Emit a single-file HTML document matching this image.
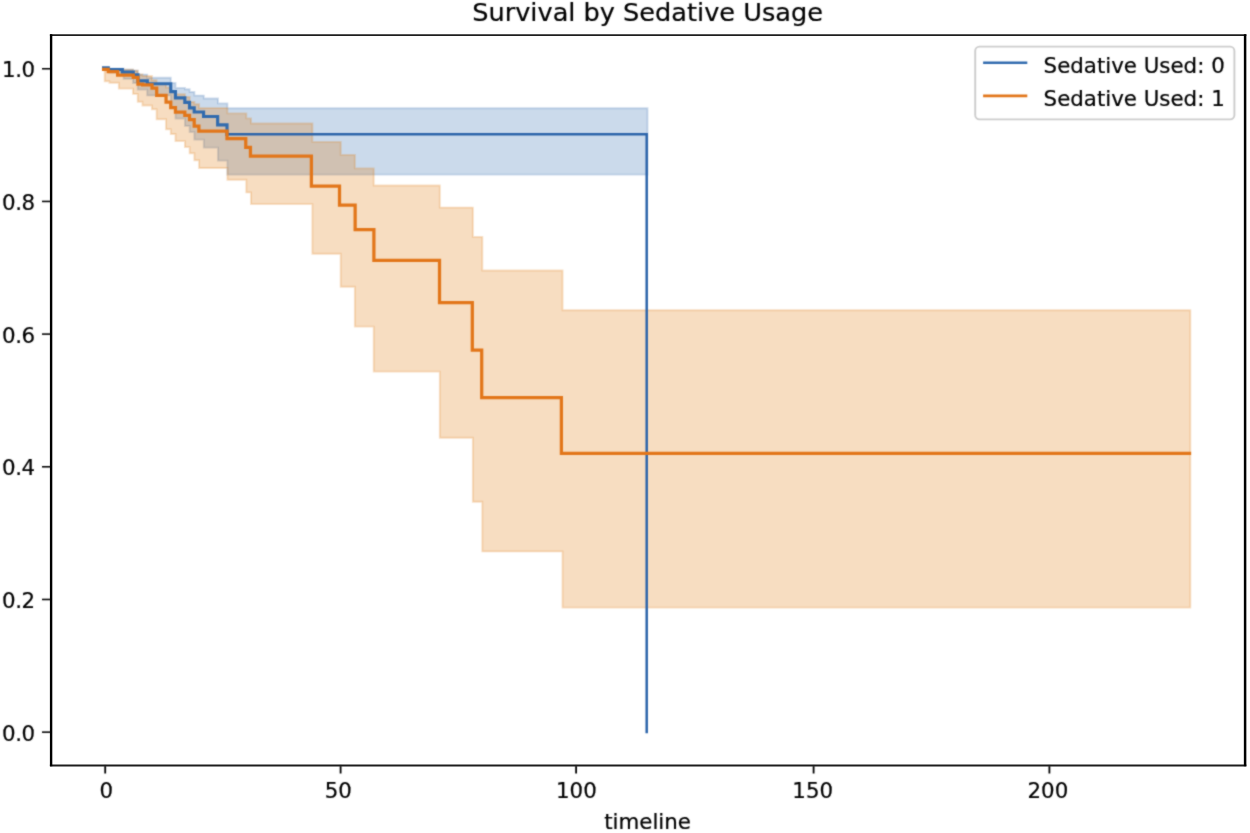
<!DOCTYPE html>
<html lang="en">
<head>
<meta charset="utf-8">
<title>Survival by Sedative Usage</title>
<style>
html,body{margin:0;padding:0;background:#fff;}
body{width:1250px;height:833px;overflow:hidden;font-family:"DejaVu Sans","Liberation Sans",sans-serif;}
</style>
</head>
<body>
<svg width="1250" height="833" viewBox="0 0 1250 833" style="display:block">
<defs><filter id="soft" x="0" y="0" width="1250" height="833" filterUnits="userSpaceOnUse" color-interpolation-filters="sRGB"><feConvolveMatrix order="3" kernelMatrix="1 2 1 2 12 2 1 2 1" divisor="24" edgeMode="duplicate" preserveAlpha="true"/></filter></defs>
<g filter="url(#soft)">
<rect x="0" y="0" width="1250" height="833" fill="#fff"/>
<path d="M104.70,68.57 L109.42,68.57 L109.42,68.70 L123.58,68.70 L123.58,69.60 L133.02,69.60 L133.02,70.60 L137.74,70.60 L137.74,74.60 L147.18,74.60 L147.18,77.80 L170.78,77.80 L170.78,82.90 L175.50,82.90 L175.50,87.90 L184.94,87.90 L184.94,89.30 L189.66,89.30 L189.66,92.00 L194.38,92.00 L194.38,95.60 L203.82,95.60 L203.82,98.50 L217.98,98.50 L217.98,103.40 L227.42,103.40 L227.42,108.20 L647.50,108.20 L647.50,174.60 L227.42,174.60 L227.42,160.60 L217.98,160.60 L217.98,147.60 L203.82,147.60 L203.82,139.60 L194.38,139.60 L194.38,132.10 L189.66,132.10 L189.66,125.90 L184.94,125.90 L184.94,118.60 L175.50,118.60 L175.50,108.00 L170.78,108.00 L170.78,95.40 L147.18,95.40 L147.18,89.60 L137.74,89.60 L137.74,83.00 L133.02,83.00 L133.02,78.90 L123.58,78.90 L123.58,72.50 L109.42,72.50 L109.42,68.57 L104.70,68.57Z" fill="#316bae" fill-opacity="0.25" stroke="#316bae" stroke-opacity="0.22" stroke-width="1.9" stroke-linejoin="miter"/>
<path d="M104.70,68.65 L109.42,68.65 L109.42,68.90 L118.86,68.90 L118.86,69.80 L133.02,69.80 L133.02,70.80 L137.74,70.80 L137.74,74.50 L142.46,74.50 L142.46,76.00 L151.90,76.00 L151.90,80.20 L156.62,80.20 L156.62,84.00 L166.06,84.00 L166.06,87.50 L170.78,87.50 L170.78,91.00 L175.50,91.00 L175.50,94.20 L184.94,94.20 L184.94,96.90 L189.66,96.90 L189.66,102.00 L194.38,102.00 L194.38,104.20 L199.10,104.20 L199.10,108.10 L227.42,108.10 L227.42,113.40 L246.30,113.40 L246.30,118.40 L251.02,118.40 L251.02,123.50 L312.38,123.50 L312.38,141.90 L340.70,141.90 L340.70,154.90 L354.86,154.90 L354.86,168.40 L373.74,168.40 L373.74,185.50 L439.82,185.50 L439.82,207.60 L472.86,207.60 L472.86,236.90 L482.30,236.90 L482.30,270.50 L562.54,270.50 L562.54,310.30 L1190.30,310.30 L1190.30,607.60 L562.54,607.60 L562.54,551.40 L482.30,551.40 L482.30,501.70 L472.86,501.70 L472.86,437.80 L439.82,437.80 L439.82,371.60 L373.74,371.60 L373.74,326.60 L354.86,326.60 L354.86,286.80 L340.70,286.80 L340.70,253.70 L312.38,253.70 L312.38,204.10 L251.02,204.10 L251.02,192.40 L246.30,192.40 L246.30,179.70 L227.42,179.70 L227.42,168.00 L199.10,168.00 L199.10,160.30 L194.38,160.30 L194.38,153.30 L189.66,153.30 L189.66,147.10 L184.94,147.10 L184.94,141.10 L175.50,141.10 L175.50,134.00 L170.78,134.00 L170.78,129.30 L166.06,129.30 L166.06,119.30 L156.62,119.30 L156.62,109.30 L151.90,109.30 L151.90,105.50 L142.46,105.50 L142.46,101.70 L137.74,101.70 L137.74,93.90 L133.02,93.90 L133.02,88.60 L118.86,88.60 L118.86,82.70 L109.42,82.70 L109.42,81.20 L104.70,81.20Z" fill="#de7608" fill-opacity="0.25" stroke="#de7608" stroke-opacity="0.22" stroke-width="1.9" stroke-linejoin="miter"/>
<path d="M103.58,67.90 L108.26,67.90 L108.26,69.50 L122.33,69.50 L122.33,72.10 L133.26,72.10 L133.26,74.70 L137.95,74.70 L137.95,80.90 L147.32,80.90 L147.32,83.76 L170.76,83.76 L170.76,91.60 L175.45,91.60 L175.45,97.90 L184.82,97.90 L184.82,102.30 L189.51,102.30 L189.51,107.90 L194.20,107.90 L194.20,112.00 L203.57,112.00 L203.57,116.50 L217.64,116.50 L217.64,124.80 L227.01,124.80 L227.01,134.35" fill="none" stroke="#316bae" stroke-width="3.15" stroke-linecap="square" stroke-linejoin="miter"/>
<path d="M227.01,134.35 L646.70,134.35 L646.70,731.97" fill="none" stroke="#2c64aa" stroke-width="2.5" stroke-linecap="square" stroke-linejoin="miter"/>
<path d="M103.58,69.25 L108.26,69.25 L108.26,71.52 L117.64,71.52 L117.64,75.10 L133.26,75.10 L133.26,77.28 L137.95,77.28 L137.95,84.04 L142.64,84.04 L142.64,84.94 L152.01,84.94 L152.01,88.00 L156.70,88.00 L156.70,95.40 L166.07,95.40 L166.07,102.10 L170.76,102.10 L170.76,107.50 L175.45,107.50 L175.45,112.10 L184.82,112.10 L184.82,115.30 L189.51,115.30 L189.51,119.70 L194.20,119.70 L194.20,126.00 L198.89,126.00 L198.89,131.10 L227.01,131.10 L227.01,138.70 L245.76,138.70 L245.76,147.30 L250.45,147.30 L250.45,156.00 L311.39,156.00 L311.39,186.00 L339.51,186.00 L339.51,205.20 L355.14,205.20 L355.14,229.70 L373.89,229.70 L373.89,260.40 L439.51,260.40 L439.51,302.70 L472.32,302.70 L472.32,350.00 L481.70,350.00 L481.70,397.50 L561.39,397.50 L561.39,453.40 L1189.51,453.40" fill="none" stroke="#e2761a" stroke-width="3.25" stroke-linecap="square" stroke-linejoin="miter"/>
<line x1="105.2" y1="765.5" x2="105.2" y2="773.5" stroke="#000" stroke-width="1.8"/>
<text x="106.4" y="798.3" text-anchor="middle" font-size="21.35" font-family="DejaVu Sans, Liberation Sans, sans-serif" stroke="#000" stroke-width="0.22" fill="#000">0</text>
<line x1="340.6" y1="765.5" x2="340.6" y2="773.5" stroke="#000" stroke-width="1.8"/>
<text x="338.3" y="798.3" text-anchor="middle" font-size="21.35" font-family="DejaVu Sans, Liberation Sans, sans-serif" stroke="#000" stroke-width="0.22" fill="#000">50</text>
<line x1="576.1" y1="765.5" x2="576.1" y2="773.5" stroke="#000" stroke-width="1.8"/>
<text x="576.4" y="798.3" text-anchor="middle" font-size="21.35" font-family="DejaVu Sans, Liberation Sans, sans-serif" stroke="#000" stroke-width="0.22" fill="#000">100</text>
<line x1="813.6" y1="765.5" x2="813.6" y2="773.5" stroke="#000" stroke-width="1.8"/>
<text x="812.7" y="798.3" text-anchor="middle" font-size="21.35" font-family="DejaVu Sans, Liberation Sans, sans-serif" stroke="#000" stroke-width="0.22" fill="#000">150</text>
<line x1="1049.4" y1="765.5" x2="1049.4" y2="773.5" stroke="#000" stroke-width="1.8"/>
<text x="1047.9" y="798.3" text-anchor="middle" font-size="21.35" font-family="DejaVu Sans, Liberation Sans, sans-serif" stroke="#000" stroke-width="0.22" fill="#000">200</text>
<line x1="42.0" y1="68.75" x2="51.1" y2="68.75" stroke="#000" stroke-width="1.55"/>
<text x="34.5" y="77.45" letter-spacing="-0.5" text-anchor="end" font-size="21.35" font-family="DejaVu Sans, Liberation Sans, sans-serif" stroke="#000" stroke-width="0.22" fill="#000">1.0</text>
<line x1="42.0" y1="201.43" x2="51.1" y2="201.43" stroke="#000" stroke-width="1.55"/>
<text x="34.5" y="210.13" letter-spacing="-0.5" text-anchor="end" font-size="21.35" font-family="DejaVu Sans, Liberation Sans, sans-serif" stroke="#000" stroke-width="0.22" fill="#000">0.8</text>
<line x1="42.0" y1="334.11" x2="51.1" y2="334.11" stroke="#000" stroke-width="1.55"/>
<text x="34.5" y="342.81" letter-spacing="-0.5" text-anchor="end" font-size="21.35" font-family="DejaVu Sans, Liberation Sans, sans-serif" stroke="#000" stroke-width="0.22" fill="#000">0.6</text>
<line x1="42.0" y1="466.79" x2="51.1" y2="466.79" stroke="#000" stroke-width="1.55"/>
<text x="34.5" y="475.49" letter-spacing="-0.5" text-anchor="end" font-size="21.35" font-family="DejaVu Sans, Liberation Sans, sans-serif" stroke="#000" stroke-width="0.22" fill="#000">0.4</text>
<line x1="42.0" y1="599.47" x2="51.1" y2="599.47" stroke="#000" stroke-width="1.55"/>
<text x="34.5" y="608.17" letter-spacing="-0.5" text-anchor="end" font-size="21.35" font-family="DejaVu Sans, Liberation Sans, sans-serif" stroke="#000" stroke-width="0.22" fill="#000">0.2</text>
<line x1="42.0" y1="732.15" x2="51.1" y2="732.15" stroke="#000" stroke-width="1.55"/>
<text x="34.5" y="740.85" letter-spacing="-0.5" text-anchor="end" font-size="21.35" font-family="DejaVu Sans, Liberation Sans, sans-serif" stroke="#000" stroke-width="0.22" fill="#000">0.0</text>
<text x="647.6" y="829" text-anchor="middle" font-size="21.35" font-family="DejaVu Sans, Liberation Sans, sans-serif" stroke="#000" stroke-width="0.22" fill="#000">timeline</text>
<text x="647.6" y="21.4" text-anchor="middle" font-size="25.6" font-family="DejaVu Sans, Liberation Sans, sans-serif" stroke="#000" stroke-width="0.22" fill="#000">Survival by Sedative Usage</text>
<rect x="975.2" y="46.6" width="259.2" height="72.8" rx="4.3" ry="4.3" fill="#fff" fill-opacity="0.8" stroke="#c6c6c6" stroke-opacity="0.9" stroke-width="1.9"/>
<line x1="983.1" y1="62.8" x2="1027.3" y2="62.8" stroke="#316bae" stroke-width="2.6"/>
<line x1="983.1" y1="95.9" x2="1027.3" y2="95.9" stroke="#e2761a" stroke-width="2.6"/>
<text x="1043.6" y="72.7" font-size="21.35" font-family="DejaVu Sans, Liberation Sans, sans-serif" stroke="#000" stroke-width="0.22" fill="#000">Sedative Used: 0</text>
<text x="1043.6" y="105.6" font-size="21.35" font-family="DejaVu Sans, Liberation Sans, sans-serif" stroke="#000" stroke-width="0.22" fill="#000">Sedative Used: 1</text>
</g>
<line x1="49.90" y1="35.1" x2="1246.35" y2="35.1" stroke="#1e1e1e" stroke-width="1.85"/>
<line x1="49.90" y1="765.5" x2="1246.35" y2="765.5" stroke="#1e1e1e" stroke-width="1.85"/>
<line x1="51.1" y1="34.25" x2="51.1" y2="766.35" stroke="#000" stroke-width="2.4"/>
<line x1="1245.1" y1="34.25" x2="1245.1" y2="766.35" stroke="#000" stroke-width="2.5"/>
</svg>
</body>
</html>
